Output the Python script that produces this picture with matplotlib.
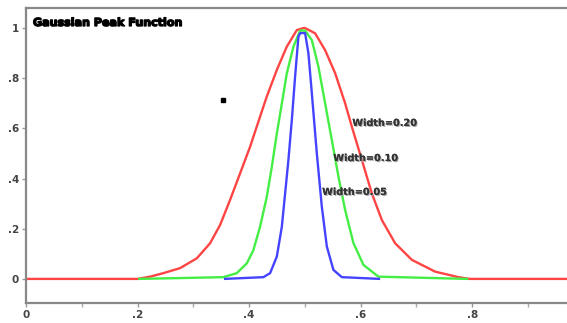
import numpy as np
import matplotlib
matplotlib.use('Agg')
from matplotlib import pyplot as plt
import matplotlib.patheffects as pe

'''
Values read off the reference picture
'''
# Width=0.20 (red), drawn over the whole range
x_red = [0.0, 0.20, 0.2224, 0.2463, 0.2762, 0.3062, 0.3300, 0.3480, 0.3659, 0.3839, 0.4018,
         0.4197, 0.4317, 0.4497, 0.4676, 0.4856, 0.4974, 0.5004, 0.5184, 0.5363, 0.5543,
         0.5722, 0.5842, 0.6022, 0.6201, 0.6380, 0.6619, 0.6918, 0.7336, 0.7754, 0.796, 1.0]
y_red = [0.0, 0.0, 0.009, 0.023, 0.043, 0.082, 0.142, 0.215, 0.315, 0.421, 0.527,
         0.647, 0.727, 0.833, 0.926, 0.992, 1.0, 1.0, 0.979, 0.912, 0.820,
         0.700, 0.607, 0.474, 0.341, 0.235, 0.142, 0.076, 0.029, 0.007, 0.0, 0.0]

# Width=0.10 (green)
x_green = [0.201, 0.3539, 0.3779, 0.3959, 0.4077, 0.4197, 0.4317, 0.4407, 0.4497, 0.4587,
           0.4676, 0.4795, 0.4915, 0.5004, 0.5125, 0.5243, 0.5363, 0.5483, 0.5602, 0.5722,
           0.5871, 0.6050, 0.6319, 0.793]
y_green = [0.0, 0.007, 0.023, 0.062, 0.115, 0.208, 0.327, 0.446, 0.579, 0.699,
           0.819, 0.926, 0.99, 0.99, 0.952, 0.846, 0.700, 0.554, 0.408, 0.275,
           0.143, 0.056, 0.009, 0.0]

# Width=0.05 (blue)
x_blue = [0.355, 0.4256, 0.4377, 0.4497, 0.4587, 0.4646, 0.4705, 0.4766, 0.4825, 0.4884,
          0.4915, 0.5004, 0.5064, 0.5125, 0.5214, 0.5304, 0.5394, 0.5512, 0.5663, 0.635]
y_blue = [0.0, 0.007, 0.023, 0.089, 0.208, 0.341, 0.474, 0.633, 0.807, 0.965,
          0.98, 0.98, 0.899, 0.740, 0.501, 0.288, 0.129, 0.036, 0.007, 0.0]

labels = ['Width=0.20', 'Width=0.10', 'Width=0.05']
xticks = [0.0, 0.2, 0.4, 0.6, 0.8]
xtick_labels = ['0', '.2', '.4', '.6', '.8']
xminor = [0.1, 0.3, 0.5, 0.7, 0.9]
yticks = [0.0, 0.2, 0.4, 0.6, 0.8, 1.0]
ytick_labels = ['0', '.2', '.4', '.6', '.8', '1']

# stray dot in the picture
dot_x, dot_y = 0.353, 0.713

'''
Plot
'''
fig = plt.figure(figsize=(5.67, 3.23), dpi=100)
ax = fig.add_axes([26 / 567, 20 / 323, 1 - 26 / 567, 295 / 323])

ax.plot(x_red, y_red, color='#ff4444', lw=1.7, solid_capstyle='butt')
ax.plot(x_green, y_green, color='#44ee44', lw=1.7, solid_capstyle='butt')
ax.plot(x_blue, y_blue, color='#4444ff', lw=1.7, solid_capstyle='butt')
ax.plot([dot_x], [dot_y], marker='s', color='k', ms=2.2, ls='none')

shadow = [pe.withSimplePatchShadow(offset=(0.8, -0.8), shadow_rgbFace='#aaaaaa', alpha=1.0), pe.Normal()]
label_pos = [(0.585, 0.622), (0.551, 0.482), (0.531, 0.347)]
for txt, (lx, ly) in zip(labels, label_pos):
    ax.text(lx, ly, txt, fontsize=7, fontweight='bold', color='#333333',
            ha='left', va='center', path_effects=shadow)

ax.set_xlim(0, 0.970)
ax.set_ylim(-0.096, 1.08)

ax.set_xticks(xticks)
ax.set_xticklabels(xtick_labels)
ax.set_xticks(xminor, minor=True)
ax.set_yticks(yticks)
ax.set_yticklabels(ytick_labels)

for s in ['left', 'bottom', 'top']:
    ax.spines[s].set_color('#888888')
    ax.spines[s].set_linewidth(1.6)
ax.spines['right'].set_visible(False)

ax.tick_params(axis='both', which='major', color='#999999', length=3, width=1,
               labelsize=7.5, labelcolor='#444444', pad=2)
ax.tick_params(axis='x', which='minor', color='#aaaaaa', length=3, width=1)
for lab in ax.get_xticklabels() + ax.get_yticklabels():
    lab.set_fontweight('bold')

# title drawn heavier with a thin stroke
fig.text(33 / 567, 1 - 23 / 323, 'Gaussian Peak Function', fontsize=8.0,
         fontweight='heavy', color='black', ha='left', va='center',
         path_effects=[pe.withStroke(linewidth=0.9, foreground='black')])

fig.savefig('out.png', dpi=100)
